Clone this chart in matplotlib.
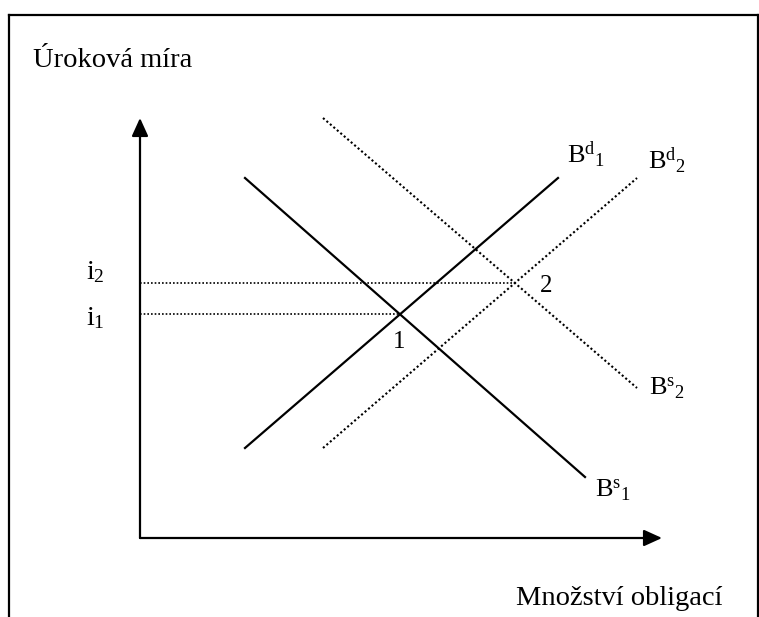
import matplotlib.pyplot as plt

plt.rcParams['mathtext.fontset'] = 'custom'
plt.rcParams['mathtext.rm'] = 'Liberation Serif'
plt.rcParams['mathtext.it'] = 'Liberation Serif'
plt.rcParams['font.family'] = ['Liberation Serif', 'DejaVu Serif']

# křivky (množství, úroková míra) - začátek a konec
bs1_q, bs1_i = [105, 445], [360, 61]
bd1_q, bd1_i = [105, 418], [90, 360]
bs2_q, bs2_i = [183, 497], [420, 150]
bd2_q, bd2_i = [183, 497], [90, 360]

# rovnováhy
eq_q = [260, 375]
eq_i = [224, 255]
eq_labels = ['1', '2']
i_labels = [r'$\mathrm{i_1}$', r'$\mathrm{i_2}$']

x_max, y_max = 522, 420

fig = plt.figure(figsize=(7.59, 6.17), dpi=100)
ax = fig.add_axes([0, 0, 1, 1])
ax.set_xlim(-140, 619)
ax.set_ylim(-79, 538)
ax.axis('off')

# rámeček
ax.plot([-131, 619], [523, 523], color='black', lw=1.6)
ax.plot([-131, -131], [523, -79], color='black', lw=1.6)
ax.plot([618, 618], [523, -79], color='black', lw=1.6)

# osy
arr = dict(arrowstyle='-|>,head_width=0.5,head_length=1.1', color='black', lw=1.6, shrinkA=0, shrinkB=0)
ax.annotate('', xy=(0, y_max), xytext=(0, 0), arrowprops=arr)
ax.annotate('', xy=(x_max, 0), xytext=(0, 0), arrowprops=arr)

dot = (0, (1, 1.2))
ax.plot(bs1_q, bs1_i, color='black', lw=1.6)
ax.plot(bd1_q, bd1_i, color='black', lw=1.6)
ax.plot(bs2_q, bs2_i, color='black', lw=1.5, linestyle=dot)
ax.plot(bd2_q, bd2_i, color='black', lw=1.5, linestyle=dot)

for q, i in zip(eq_q, eq_i):
    ax.plot([0, q], [i, i], color='black', lw=1.2, linestyle=dot)

ax.text(-107, 471, 'Úroková míra', fontsize=20.5, va='baseline', ha='left')
ax.text(582, -67, 'Množství obligací', fontsize=20.5, va='baseline', ha='right')

ax.text(-54, 213, i_labels[0], fontsize=20, va='baseline', ha='left')
ax.text(-54, 259, i_labels[1], fontsize=20, va='baseline', ha='left')
ax.text(eq_q[0] - 1, 190, eq_labels[0], fontsize=18, va='baseline', ha='center')
ax.text(eq_q[1] + 31, 246, eq_labels[1], fontsize=18, va='baseline', ha='center')

bfs = 19
ax.text(427, 375, r'$\mathrm{B^{d}{}_{1}}$', fontsize=bfs, va='baseline', ha='left')
ax.text(508, 369, r'$\mathrm{B^{d}{}_{2}}$', fontsize=bfs, va='baseline', ha='left')
ax.text(509, 143, r'$\mathrm{B^{s}{}_{2}}$', fontsize=bfs, va='baseline', ha='left')
ax.text(455, 41, r'$\mathrm{B^{s}{}_{1}}$', fontsize=bfs, va='baseline', ha='left')

fig.savefig('out.png', dpi=100)
